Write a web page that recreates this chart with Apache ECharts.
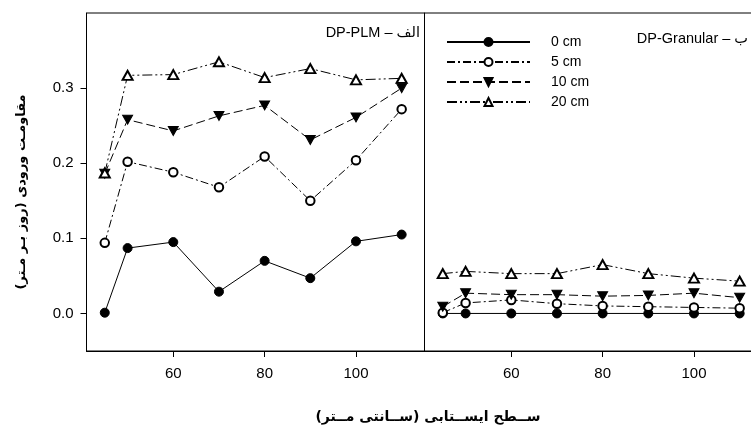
<!DOCTYPE html>
<html>
<head>
<meta charset="utf-8">
<script src="https://cdn.jsdelivr.net/npm/echarts@6/dist/echarts.min.js"></script>
<style>
  html, body { margin: 0; padding: 0; background: #fff; }
  #chart { width: 751px; height: 427px; }
</style>
</head>
<body>
<div id="chart"></div>
<script>
// water table depth (cm)
var depths = [45, 50, 60, 70, 80, 90, 100, 110];
var seriesNames = ["0 cm", "5 cm", "10 cm", "20 cm"];
var xTicks = [60, 80, 100];
var yTicks = [0, 0.1, 0.2, 0.3];

// panel a - DP-PLM
var plm0 = [0.001, 0.087, 0.095, 0.029, 0.070, 0.047, 0.096, 0.105];
var plm5 = [0.094, 0.202, 0.188, 0.168, 0.209, 0.150, 0.204, 0.272];
var plm10 = [0.186, 0.258, 0.243, 0.263, 0.277, 0.231, 0.261, 0.300];
var plm20 = [0.187, 0.317, 0.318, 0.335, 0.314, 0.326, 0.311, 0.313];

// panel b - DP-Granular
var gran0 = [0.0, 0.0, 0.0, 0.0, 0.0, 0.0, 0.0, 0.0];
var gran5 = [0.001, 0.014, 0.018, 0.013, 0.010, 0.009, 0.008, 0.007];
var gran10 = [0.009, 0.027, 0.025, 0.025, 0.023, 0.024, 0.027, 0.021];
var gran20 = [0.053, 0.056, 0.053, 0.053, 0.065, 0.053, 0.047, 0.043];

var latin = "Arial, 'Liberation Sans', 'DejaVu Sans', sans-serif";
var arabic = "'DejaVu Sans', Arial, sans-serif";

var styles = [
  {symbol: "circle", size: 9, rotate: 0, dash: "solid"},
  {symbol: "emptyCircle", size: 8.5, rotate: 0, dash: [8, 3, 2, 3]},
  {symbol: "triangle", size: [10, 9], rotate: 180, dash: [9, 4]},
  {symbol: "emptyTriangle", size: [10, 9], rotate: 0, dash: [10, 3, 2, 3, 2, 3]}
];

function pairs(vals) {
  return depths.map(function (d, i) { return [d, vals[i]]; });
}

function makeSeries(name, vals, idx, panel) {
  var st = styles[idx];
  return {
    name: name,
    type: "line",
    xAxisIndex: panel,
    yAxisIndex: panel,
    data: pairs(vals),
    symbol: st.symbol,
    symbolSize: st.size,
    symbolRotate: st.rotate,
    showAllSymbol: true,
    color: "#000",
    itemStyle: {color: "#000", borderColor: "#000", borderWidth: 1},
    lineStyle: {color: "#000", width: 1, type: st.dash},
    emphasis: {disabled: true},
    z: 2 + idx
  };
}

var series = [];
[plm0, plm5, plm10, plm20].forEach(function (v, i) { series.push(makeSeries(seriesNames[i], v, i, 0)); });
[gran0, gran5, gran10, gran20].forEach(function (v, i) { series.push(makeSeries(seriesNames[i], v, i, 1)); });

function xAxis(grid) {
  return {
    type: "value", gridIndex: grid, min: 41, max: 115,
    splitLine: {show: false},
    axisLine: {show: true, onZero: false, lineStyle: {color: "#000", width: 1}},
    axisTick: {show: true, length: 6, lineStyle: {color: "#000"}, customValues: xTicks},
    axisLabel: {color: "#000", fontSize: 15, fontFamily: latin, margin: 15, customValues: xTicks}
  };
}

function yAxis(grid, labels) {
  return {
    type: "value", gridIndex: grid, min: -0.05, max: 0.4,
    splitLine: {show: false},
    axisLine: {show: true, onZero: false, lineStyle: {color: "#000", width: 1}},
    axisTick: {show: labels, length: 6, lineStyle: {color: "#000"}, customValues: yTicks},
    axisLabel: {show: labels, color: "#000", fontSize: 15, fontFamily: latin, margin: 13,
      customValues: yTicks, formatter: function (v) { return v.toFixed(1); }}
  };
}

var chart = echarts.init(document.getElementById("chart"), null, {renderer: "canvas"});
chart.setOption({
  animation: false,
  backgroundColor: "#fff",
  grid: [
    {left: 86.5, top: 13, width: 338, height: 338, show: true, borderColor: "#000", borderWidth: 1,
      outerBoundsMode: "none", containLabel: false},
    {left: 424.5, top: 13, width: 338, height: 338, show: true, borderColor: "#000", borderWidth: 1,
      outerBoundsMode: "none", containLabel: false}
  ],
  xAxis: [xAxis(0), xAxis(1)],
  yAxis: [yAxis(0, true), yAxis(1, false)],
  legend: {
    orient: "vertical",
    left: 446, top: 35, padding: 0,
    itemWidth: 83, itemHeight: 10, itemGap: 6,
    data: seriesNames,
    selectedMode: false,
    textStyle: {color: "#000", fontSize: 14, fontFamily: latin, padding: [0, 0, 0, 16]}
  },
  graphic: [
    {type: "text", x: 420, y: 33, style: {text: "DP-PLM – الف", fill: "#000",
      font: "14.5px " + latin, align: "right", verticalAlign: "middle"}},
    {type: "text", x: 748, y: 39, style: {text: "DP-Granular – ب", fill: "#000",
      font: "14.5px " + latin, align: "right", verticalAlign: "middle"}},
    {type: "text", x: 22, y: 192, rotation: Math.PI / 2,
      style: {text: "مقاومـت ورودی (روز بـر مـتر)\u200F", fill: "#000",
      font: "bold 13px " + arabic, align: "center", verticalAlign: "middle"}},
    {type: "text", x: 428, y: 417,
      style: {text: "ســطح ایســتابی (ســانتی مــتر)\u200F", fill: "#000",
      font: "bold 14px " + arabic, align: "center", verticalAlign: "middle"}}
  ],
  series: series
});
</script>
</body>
</html>
